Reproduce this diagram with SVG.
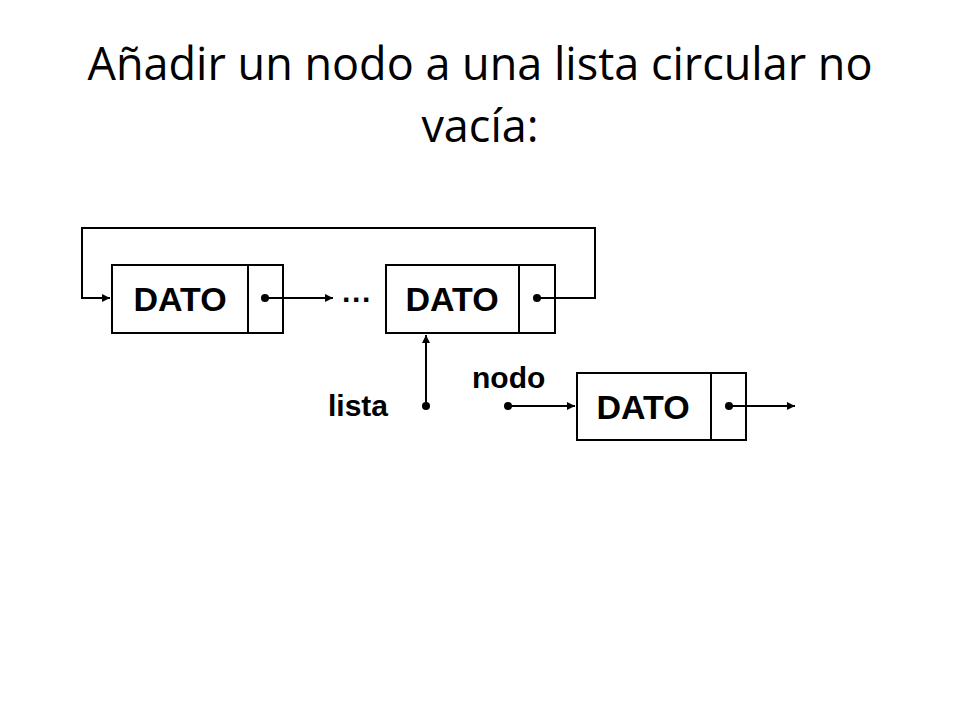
<svg xmlns="http://www.w3.org/2000/svg" width="960" height="720" viewBox="0 0 960 720">
<style>
.t{font-family:"Open Sans","Liberation Sans",sans-serif;font-size:45px;fill:#000;text-anchor:middle}
.box{fill:#fff;stroke:#000;stroke-width:2}
.d{font-family:"Liberation Sans",Arial,sans-serif;font-weight:bold;font-size:34px;fill:#000;text-anchor:middle}
.l{font-family:"Liberation Sans",Arial,sans-serif;font-size:30px;fill:#000}
.c{fill:none;stroke:#000;stroke-width:2}
</style>
<defs><marker id="a" markerWidth="10" markerHeight="10" refX="8" refY="4" orient="auto" markerUnits="userSpaceOnUse"><path d="M0,0 L8,4 L0,8 Z" fill="#000"/></marker></defs>
<rect width="960" height="720" fill="#fff"/>
<text class="t" x="480" y="80">Añadir un nodo a una lista circular no</text>
<text class="t" x="480" y="142">vacía:</text>
<g id="node1"><rect class="box" x="112" y="265" width="171" height="68"/><line class="c" x1="248" y1="265" x2="248" y2="333"/><text class="d" x="180" y="311">DATO</text><circle cx="265" cy="298" r="4"/></g>
<g id="node2"><rect class="box" x="386" y="265" width="169" height="68"/><line class="c" x1="519" y1="265" x2="519" y2="333"/><text class="d" x="452" y="311">DATO</text><circle cx="537" cy="298" r="4"/></g>
<g id="node3"><rect class="box" x="577" y="373" width="169" height="67"/><line class="c" x1="711" y1="373" x2="711" y2="440"/><text class="d" x="643" y="419">DATO</text><circle cx="729" cy="406" r="4"/></g>
<g id="dots" font-family="Liberation Sans" font-weight="bold" font-size="30"><text x="342" y="310">···</text></g>
<g id="lista"><text class="l" x="328" y="416" font-weight="bold">lista</text><circle cx="426" cy="406" r="4"/></g>
<g id="nodo"><text class="l" x="472" y="388" font-weight="bold">nodo</text><circle cx="508" cy="406" r="4"/></g>
<g id="connectors">
<path class="c" d="M537,298 H595 V228 H82 V298 H110" marker-end="url(#a)"/>
<path class="c" d="M265,298 H333" marker-end="url(#a)"/>
<path class="c" d="M426,406 V335" marker-end="url(#a)"/>
<path class="c" d="M508,406 H575" marker-end="url(#a)"/>
<path class="c" d="M729,406 H795" marker-end="url(#a)"/>
</g>
</svg>
